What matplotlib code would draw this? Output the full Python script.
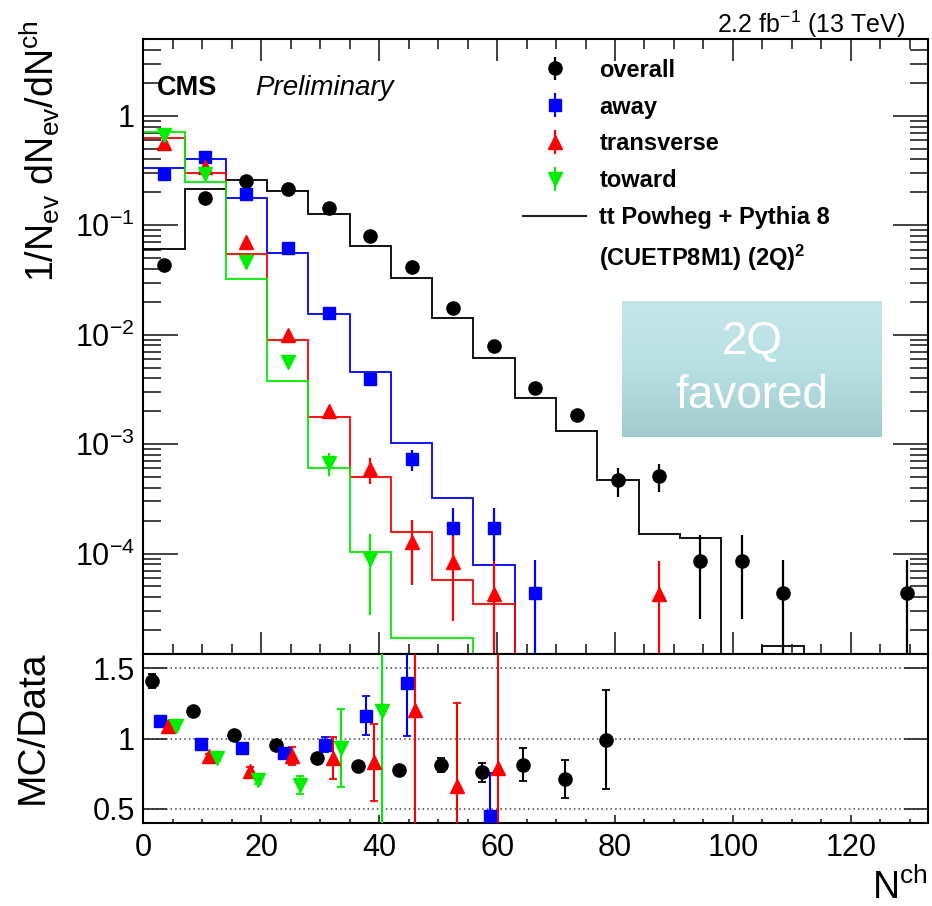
import numpy as np
import matplotlib
matplotlib.use("Agg")
import matplotlib.pyplot as plt
from matplotlib.ticker import FixedLocator, FuncFormatter, MultipleLocator, LogLocator, NullFormatter
from matplotlib.lines import Line2D
from matplotlib.colors import LinearSegmentedColormap

plt.rcParams['font.family'] = ['Liberation Sans', 'DejaVu Sans']
plt.rcParams['mathtext.fontset'] = 'custom'
plt.rcParams['mathtext.rm'] = 'Liberation Sans'
plt.rcParams['mathtext.it'] = 'Liberation Sans:italic'
plt.rcParams['mathtext.bf'] = 'Liberation Sans:bold'
plt.rcParams['mathtext.default'] = 'regular'

nan = np.nan

# ---------------- data ----------------
bin_edges = [0, 7, 14, 21, 28, 35, 42, 49, 56, 63, 70, 77, 84, 91, 98, 105, 112, 119, 126, 133]

overall_data = [0.0435, 0.179, 0.255, 0.217, 0.145, 0.0805, 0.0417, 0.0175, 0.0079, 0.00329,
                0.00185, 4.7e-4, 5.15e-4, 8.6e-5, 8.6e-5, 4.34e-5, nan, nan, 4.34e-5]
overall_err = [0.002, 0.004, 0.005, 0.004, 0.003, 0.002, 0.0012, 0.0006, 0.0004, 0.0002,
               0.00025, 1.4e-4, 1.5e-4, 6.1e-5, 6.1e-5, 4.34e-5, nan, nan, 4.34e-5]
overall_mc = [0.0608, 0.214, 0.260, 0.206, 0.127, 0.0653, 0.0328, 0.0141, 0.0061, 0.00266,
              0.00133, 4.67e-4, 1.51e-4, 1.39e-4, 0, 1.43e-5, 0, 0, 0]

away_data = [0.295, 0.422, 0.192, 0.0617, 0.0159, 0.00394, 7.3e-4, 1.73e-4, 1.73e-4, 4.34e-5,
             nan, nan, nan, nan, nan, nan, nan, nan, nan]
away_err = [0.005, 0.006, 0.004, 0.0015, 0.0006, 0.0002, 1.6e-4, 0.87e-4, 0.87e-4, 4.34e-5,
            nan, nan, nan, nan, nan, nan, nan, nan, nan]
away_mc = [0.337, 0.407, 0.178, 0.0556, 0.0156, 0.0046, 0.00102, 3.2e-4, 7.8e-5, 0,
           0, 0, 0, 0, 0, 0, 0, 0, 0]

trans_data = [0.563, 0.344, 0.070, 0.00995, 0.00202, 5.93e-4, 1.27e-4, 8.4e-5, 4.27e-5, nan,
              nan, nan, 4.27e-5, nan, nan, nan, nan, nan, nan]
trans_err = [0.008, 0.006, 0.002, 0.0006, 0.0002, 1.6e-4, 7.5e-5, 6e-5, 4.27e-5, nan,
             nan, nan, 4.27e-5, nan, nan, nan, nan, nan, nan]
trans_mc = [0.625, 0.299, 0.0548, 0.00896, 0.00178, 5.04e-4, 1.56e-4, 5.74e-5, 3.46e-5, 0,
            0, 0, 0, 0, 0, 0, 0, 0, 0]

toward_data = [0.670, 0.293, 0.0466, 0.00564, 6.7e-4, 8.87e-5, nan, nan, nan, nan,
               nan, nan, nan, nan, nan, nan, nan, nan, nan]
toward_err = [0.01, 0.006, 0.0015, 0.0004, 1.6e-4, 6.1e-5, nan, nan, nan, nan,
              nan, nan, nan, nan, nan, nan, nan, nan, nan]
toward_mc = [0.709, 0.248, 0.0324, 0.00378, 6.02e-4, 1.03e-4, 1.68e-5, 1.7e-5, 0, 0,
             0, 0, 0, 0, 0, 0, 0, 0, 0]

# MC/Data ratios
ratio_overall = [1.408, 1.194, 1.028, 0.957, 0.862, 0.803, 0.780, 0.810, 0.760, 0.815,
                 0.715, 0.993, nan, nan, nan, nan, nan, nan, nan]
ratio_overall_err = [0.05, 0.015, 0.012, 0.012, 0.012, 0.015, 0.02, 0.05, 0.07, 0.115,
                     0.135, 0.35, nan, nan, nan, nan, nan, nan, nan]
ratio_away = [1.123, 0.962, 0.934, 0.898, 0.957, 1.164, 1.396, nan, 0.447, nan,
              nan, nan, nan, nan, nan, nan, nan, nan, nan]
ratio_away_err = [0.02, 0.02, 0.02, 0.02, 0.053, 0.14, 0.38, nan, 0.31, nan,
                  nan, nan, nan, nan, nan, nan, nan, nan, nan]
ratio_trans = [1.092, 0.874, 0.768, 0.879, 0.862, 0.831, 1.201, 0.661, 0.792, nan,
               nan, nan, nan, nan, nan, nan, nan, nan, nan]
ratio_trans_err = [0.02, 0.02, 0.03, 0.065, 0.15, 0.275, 0.9, 0.59, 0.9, nan,
                   nan, nan, nan, nan, nan, nan, nan, nan, nan]
ratio_toward = [1.092, 0.862, 0.708, 0.668, 0.934, 1.194, nan, nan, nan, nan,
                nan, nan, nan, nan, nan, nan, nan, nan, nan]
ratio_toward_err = [0.02, 0.02, 0.03, 0.065, 0.28, 1.0, nan, nan, nan, nan,
                    nan, nan, nan, nan, nan, nan, nan, nan, nan]

series_labels = ['overall', 'away', 'transverse', 'toward']
mc_label_1 = 'tt Powheg + Pythia 8'
mc_label_2 = r'(CUETP8M1) (2Q)$^{2}$'

# ---------------- style ----------------
colors = ['black', '#0000ff', '#ff0000', '#00ee00']
markers = ['o', 's', '^', 'v']
msizes = [9.5, 9, 10.5, 10.5]
ratio_offsets = [1.45, 2.8, 4.15, 5.5]
YMIN, YMAX = 1.2e-5, 5.1
XMIN, XMAX = 0, 133

W, H = 932, 906
fig = plt.figure(figsize=(W / 100, H / 100), dpi=100)

def fx(px):
    return px / W

def fy(py):
    return 1 - py / H

L, R = 143.3, 927.5
ax = fig.add_axes([fx(L), fy(654.3), fx(R - L), fy(38.5) - fy(654.3)])
axr = fig.add_axes([fx(L), fy(823), fx(R - L), fy(654.3) - fy(823)])

edges = np.array(bin_edges, dtype=float)
centers = 0.5 * (edges[:-1] + edges[1:])

data_sets = [(overall_data, overall_err, overall_mc),
             (away_data, away_err, away_mc),
             (trans_data, trans_err, trans_mc),
             (toward_data, toward_err, toward_mc)]
ratio_sets = [(ratio_overall, ratio_overall_err), (ratio_away, ratio_away_err),
              (ratio_trans, ratio_trans_err), (ratio_toward, ratio_toward_err)]

# histograms (MC)
for (d, e, mc), c in zip(data_sets, colors):
    mcv = np.array(mc, dtype=float)
    mcv = np.where(mcv > 0, mcv, YMIN)
    ax.stairs(mcv, edges, color=c, lw=1.3, baseline=None, zorder=2)

# data points
handles = []
for (d, e, mc), c, m, ms in zip(data_sets, colors, markers, msizes):
    dv = np.array(d, dtype=float)
    ev = np.array(e, dtype=float)
    h = ax.errorbar(centers, dv, yerr=ev, fmt=m, color=c, ms=ms, elinewidth=1.6,
                    capsize=0, mec=c, zorder=4)
    handles.append(h)

ax.set_yscale('log', nonpositive='clip')
ax.set_ylim(YMIN, YMAX)
ax.set_xlim(XMIN, XMAX)

def logfmt(v, pos):
    k = int(round(np.log10(v)))
    if k == 0:
        return '1'
    return r'$10^{%d}$' % k

ax.yaxis.set_major_locator(FixedLocator([1e-4, 1e-3, 1e-2, 1e-1, 1]))
ax.yaxis.set_minor_locator(LogLocator(base=10, subs=np.arange(2, 10), numticks=20))
ax.yaxis.set_major_formatter(FuncFormatter(logfmt))
ax.yaxis.set_minor_formatter(NullFormatter())
ax.xaxis.set_major_locator(MultipleLocator(20))
ax.xaxis.set_minor_locator(MultipleLocator(5))
ax.tick_params(axis='x', which='both', labelbottom=False)
ax.tick_params(which='both', direction='in', top=True, right=True, width=1.2, colors='#222222')
ax.tick_params(axis='x', which='major', length=16)
ax.tick_params(axis='x', which='minor', length=7)
ax.tick_params(axis='y', which='major', length=25, labelsize=22, pad=6, labelcolor='black')
ax.tick_params(axis='y', which='minor', length=13)
for s in ax.spines.values():
    s.set_linewidth(1.5)

# ratio panel
for (r, re), c, m, ms, off in zip(ratio_sets, colors, markers, msizes, ratio_offsets):
    rv = np.array(r, dtype=float)
    rev = np.array(re, dtype=float)
    axr.errorbar(edges[:-1] + off, rv, yerr=rev, fmt=m, color=c, ms=ms, elinewidth=1.5,
                 capsize=3, capthick=1.3, mec=c, zorder=4)
for yl in [0.5, 1.0, 1.5]:
    axr.axhline(yl, color='#444444', lw=1.1, ls=(0, (1, 2)), zorder=1)
axr.set_xlim(XMIN, XMAX)
axr.set_ylim(0.4, 1.6)
axr.xaxis.set_major_locator(MultipleLocator(20))
axr.xaxis.set_minor_locator(MultipleLocator(5))
axr.yaxis.set_major_locator(FixedLocator([0.5, 1.0, 1.5]))
axr.yaxis.set_major_formatter(FuncFormatter(lambda v, p: ('%g' % v)))
axr.tick_params(which='both', direction='in', top=False, right=True, width=1.2, colors='#222222')
axr.tick_params(axis='x', which='major', length=6, labelsize=22, pad=7, labelcolor='black')
axr.tick_params(axis='x', which='minor', length=3)
axr.tick_params(axis='y', which='major', length=17, labelsize=22, pad=6, labelcolor='black')
axr.tick_params(axis='y', which='minor', length=0)
for s in axr.spines.values():
    s.set_linewidth(1.5)

# legend
mc_handle = Line2D([], [], color='#222222', lw=1.5)
blank = Line2D([], [], color='none')
leg = ax.legend(handles + [mc_handle, blank],
                series_labels + [mc_label_1, mc_label_2],
                loc='upper left', bbox_to_anchor=(fx(518), fy(54)),
                bbox_transform=fig.transFigure, frameon=False,
                prop={'family': 'Liberation Sans', 'weight': 'bold', 'size': 17},
                handlelength=2.7, handletextpad=0.55, labelspacing=0.585,
                borderpad=0.2, borderaxespad=0)

# texts
fig.text(fx(157), fy(95), 'CMS', fontsize=19.5, fontweight='bold', va='baseline', ha='left')
fig.text(fx(255), fy(95), 'Preliminary', fontsize=20, style='italic', va='baseline', ha='left')
fig.text(fx(905), fy(33), r'2.2 fb$^{-1}$ (13 TeV)', fontsize=18, va='baseline', ha='right')
fig.text(fx(40), fy(151), r'$1/N_{ev}\ dN_{ev}/dN^{ch}$', fontsize=27, rotation=90,
         ha='center', va='center')
fig.text(fx(33), fy(727), 'MC/Data', fontsize=28, rotation=90, ha='center', va='center')
fig.text(fx(928), fy(899), r'$N^{ch}$', fontsize=27, ha='right', va='baseline')

# "2Q favored" box
bx = fig.add_axes([fx(622), fy(437), fx(882 - 622), fy(301) - fy(437)], zorder=10)
grad = np.linspace(0, 1, 256)[:, None]
cmap = LinearSegmentedColormap.from_list('tealgrad', ['#c5e6e9', '#b8e0e3', '#a2cbce'])
bx.imshow(grad, aspect='auto', cmap=cmap, extent=[0, 1, 0, 1])
bx.set_xlim(0, 1)
bx.set_ylim(0, 1)
bx.axis('off')
bx.text(0.5, 0.70, '2Q', color='white', fontsize=33, ha='center', va='center',
        transform=bx.transAxes)
bx.text(0.5, 0.30, 'favored', color='white', fontsize=33, ha='center', va='center',
        transform=bx.transAxes)

fig.savefig('out.png', dpi=100)
